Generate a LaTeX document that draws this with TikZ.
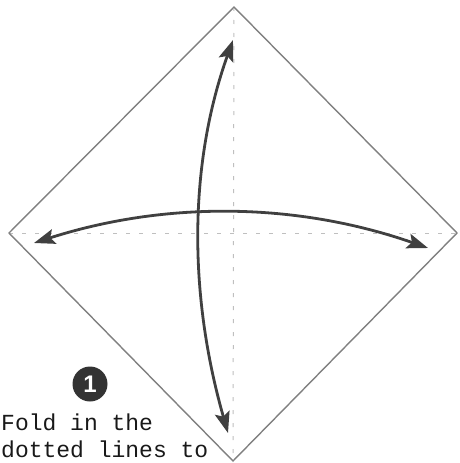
\documentclass[tikz,border=0pt]{standalone}
\usepackage{fontspec}
\setmonofont{Liberation Mono}
\setsansfont{Liberation Sans}
\usepackage{tikz}
\usetikzlibrary{arrows.meta, positioning}

\begin{document}
\begin{tikzpicture}[
    x=1pt, y=-1pt,
    paper/.style={draw=black!50, line width=1.4pt, line join=miter},
    crease/.style={draw=black!25, line width=1pt, dash pattern=on 4pt off 9pt},
    foldarrow/.style={{Stealth[length=21pt,width=15pt,inset=4pt]}-{Stealth[length=21pt,width=15pt,inset=4pt]}, draw=black!75, line width=2.8pt},
    stepnum/.style={circle, fill=black!80, text=white, inner sep=0pt, minimum size=35pt, font=\sffamily\bfseries\fontsize{24}{24}\selectfont},
    caption/.style={anchor=base west, inner sep=0pt, font=\ttfamily\fontsize{23}{28}\selectfont, text=black!90}
]
\useasboundingbox (0,0) rectangle (460,463);

% Corners of the square
\coordinate (top) at (234,7);
\coordinate (right) at (457,233);
\coordinate (bottom) at (233,461);
\coordinate (left) at (9,233);

% Dotted crease lines
\draw[crease] (left) -- (right);
\draw[crease] (top) -- (bottom);

% Paper
\draw[paper] (top) -- (right) -- (bottom) -- (left) -- cycle;

% Arrow ends
\coordinate (vtop) at (233,40);
\coordinate (vbot) at (228,433);
\coordinate (hleft) at (34,243);
\coordinate (hright) at (428,248);

% Fold arrows
\draw[foldarrow] (vtop) .. controls (189,163) and (188,293) .. (vbot);
\draw[foldarrow] (hleft) .. controls (165,201) and (296,202) .. (hright);

% Step
\node[stepnum] (step1) at (90,384) {1};
\node[caption] (fold1) at (1,430) {Fold in the};
\node[caption] (fold2) at (1,457) {dotted lines to};

\end{tikzpicture}
\end{document}
